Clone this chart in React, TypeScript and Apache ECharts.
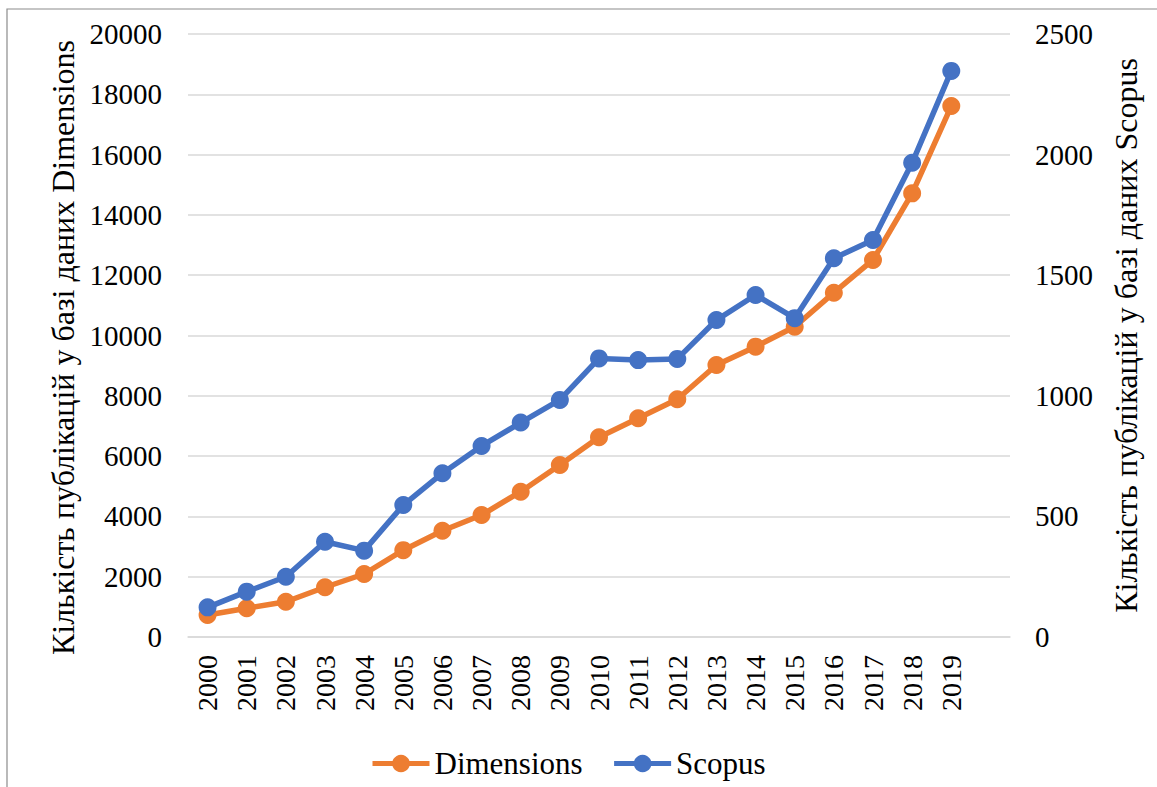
import React, { useEffect, useRef } from "react";
import * as echarts from "echarts";

const years = ["2000","2001","2002","2003","2004","2005","2006","2007","2008","2009","2010","2011","2012","2013","2014","2015","2016","2017","2018","2019",""];
const dimensions = [730, 955, 1170, 1650, 2090, 2880, 3525, 4045, 4820, 5705, 6625, 7255, 7885, 9020, 9630, 10290, 11420, 12505, 14715, 17610];
const scopus = [123, 188, 250, 395, 358, 547, 679, 792, 889, 983, 1155, 1148, 1153, 1314, 1418, 1322, 1570, 1646, 1966, 2347];
const leftTitle = "Кількість публікацій у базі даних Dimensions";
const rightTitle = "Кількість публікацій у базі даних Scopus";

const FONT = "'Liberation Serif', 'Times New Roman', serif";

export default function App() {
  const ref = useRef<HTMLDivElement>(null);
  useEffect(() => {
    if (!ref.current) return;
    const chart = echarts.init(ref.current, null, { renderer: "svg" });
    chart.setOption({
      animation: false,
      backgroundColor: "#ffffff",
      textStyle: { fontFamily: FONT, color: "#000" },
      graphic: [
        {
          type: "rect",
          shape: { x: 7, y: 9, width: 1170, height: 800 },
          style: { fill: "none", stroke: "#8c8c8c", lineWidth: 1.2 },
          silent: true,
        },
      ],
      grid: { left: 188, right: 147, top: 34, bottom: 150, containLabel: false },
      legend: {
        left: 365,
        top: 743,
        itemWidth: 57,
        itemHeight: 22,
        itemGap: 29,
        lineStyle: { width: 5 },
        textStyle: { fontFamily: FONT, fontSize: 31, color: "#000" },
        data: ["Dimensions", "Scopus"],
      },
      xAxis: {
        type: "category",
        data: years,
        boundaryGap: true,
        axisLine: { show: true, lineStyle: { color: "#d9d9d9", width: 1.5 } },
        axisTick: { show: false },
        axisLabel: {
          rotate: 90,
          interval: 0,
          margin: 18,
          fontFamily: FONT,
          fontSize: 28,
          color: "#000",
        },
      },
      yAxis: [
        {
          type: "value",
          min: 0,
          max: 20000,
          interval: 2000,
          name: leftTitle,
          nameLocation: "middle",
          nameGap: 108,
          nameRotate: 90,
          nameTextStyle: { fontFamily: FONT, fontSize: 32, color: "#000", padding: [0, 24, 0, 0] },
          axisLine: { show: false },
          axisTick: { show: false },
          axisLabel: {
            margin: 26,
            fontFamily: FONT,
            fontSize: 29,
            color: "#000",
            formatter: (v: number) => String(v),
          },
          splitLine: { show: true, lineStyle: { color: "#d9d9d9", width: 1.5 } },
        },
        {
          type: "value",
          min: 0,
          max: 2500,
          interval: 500,
          position: "right",
          name: rightTitle,
          nameLocation: "middle",
          nameGap: 100,
          nameRotate: 90,
          nameTextStyle: { fontFamily: FONT, fontSize: 32, color: "#000" },
          axisLine: { show: false },
          axisTick: { show: false },
          axisLabel: {
            margin: 25,
            fontFamily: FONT,
            fontSize: 29,
            color: "#000",
            formatter: (v: number) => String(v),
          },
          splitLine: { show: false },
        },
      ],
      series: [
        {
          name: "Dimensions",
          type: "line",
          yAxisIndex: 0,
          data: dimensions,
          symbol: "circle",
          symbolSize: 18,
          itemStyle: { color: "#ED7D31" },
          lineStyle: { color: "#ED7D31", width: 5.5 },
          z: 2,
        },
        {
          name: "Scopus",
          type: "line",
          yAxisIndex: 1,
          data: scopus,
          symbol: "circle",
          symbolSize: 18,
          itemStyle: { color: "#4472C4" },
          lineStyle: { color: "#4472C4", width: 5.5 },
          z: 3,
        },
      ],
    });
    return () => chart.dispose();
  }, []);
  return (
    <div
      ref={ref}
      style={{ position: "fixed", left: 0, top: 0, width: 1157, height: 787 }}
    />
  );
}
